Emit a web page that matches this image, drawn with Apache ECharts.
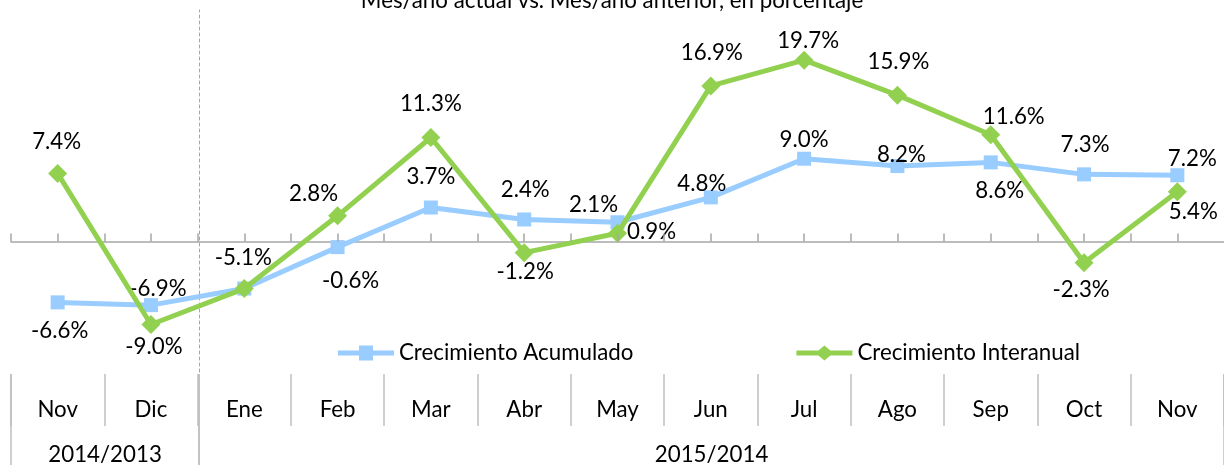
<!DOCTYPE html>
<html><head><meta charset="utf-8">
<script src="https://cdn.jsdelivr.net/npm/echarts@6/dist/echarts.min.js"></script>
<style>html,body{margin:0;padding:0;background:#fff}#c{width:1224px;height:466px}</style>
</head><body><div id="c"></div>
<script>
// ---- data ----
const months = ['Nov','Dic','Ene','Feb','Mar','Abr','May','Jun','Jul','Ago','Sep','Oct','Nov'];
const years = ['2014/2013','2015/2014'];
const yearSpans = [2, 11];
const acumulado = [-6.6,-6.9,-5.1,-0.6,3.7,2.4,2.1,4.8,9.0,8.2,8.6,7.3,7.2];
const interanual = [7.4,-9.0,-5.1,2.8,11.3,-1.2,0.9,16.9,19.7,15.9,11.6,-2.3,5.4];
const seriesNames = ['Crecimiento Acumulado','Crecimiento Interanual'];
const titleText = 'Mes/año actual vs. Mes/año anterior, en porcentaje';

// ---- label placement (style) ----
const offA = [[2,28],[7,-16],[-1,-31],[13,34],[0,-31],[1,-30],[-24,-17],[-9,-14],[0,-19],[4,-11],[9,28],[1,-30],[15,-16]];
const offI = [[-1,-32],[3,22],null,[-24,-22],[0,-34],[1,19],[34,-1],[1,-33],[4,-19],[1,-33],[23,-18],[-3,27],[16,20]];

// ---- font fit ----
const FONT = 'Lato';
const cv = document.createElement('canvas').getContext('2d');
cv.font = '100px ' + FONT;
const fs = Math.round(234 / cv.measureText('Crecimiento Acumulado').width * 100 * 10) / 10;

// ---- layout ----
const cw = 94.08, gl = 11, gw = 13 * cw;
const yMin = -14, yMax = 25.2, pxU = 9.21;
const gTop = 9.5, gH = (yMax - yMin) * pxU;
const zeroY = gTop + yMax * pxU;
const tickLen = 8 / pxU;
const grey = '#A6A6A6', tgrey = '#BFBFBF';
const BLUE = '#99CCFF', GREEN = '#92D050';

function mk(vals, offs) {
  return vals.map((v, i) => {
    const o = offs[i];
    return o ? { value: v, label: { offset: o } } : { value: v, label: { show: false } };
  });
}
const hiddenY = (gi) => ({ gridIndex: gi, type: 'value', show: false, splitLine: { show: false } });
const hiddenX = (gi) => ({ gridIndex: gi, type: 'value', show: false, splitLine: { show: false } });

const grids = [
  { left: gl, width: gw, top: gTop, height: gH },              // 0 data
  { left: gl, width: gw, top: zeroY - 8, height: 8 },          // 1 zero line
  { left: gl, width: gw, top: 374, height: 52 },               // 2 month row
  { left: gl + 2 * cw, width: 10, top: 10, height: 362 },      // 3 dashed divider
  { left: gl, width: gw, top: gTop, height: gH },              // 4 tick overlay (half-category scale)
];
const xAxes = [
  { gridIndex: 0, type: 'category', data: months, show: false },
  { gridIndex: 1, type: 'category', data: months, position: 'bottom',
    axisLine: { show: true, onZero: false, lineStyle: { color: grey, width: 1.5 } },
    axisTick: { show: false }, axisLabel: { show: false }, splitLine: { show: false } },
  { gridIndex: 2, type: 'category', data: months, position: 'bottom',
    axisLine: { show: false }, axisTick: { show: false },
    axisLabel: { show: true, inside: true, interval: 0, margin: 16, verticalAlign: 'middle', color: '#000', fontSize: fs, fontFamily: FONT },
    splitLine: { show: true, interval: 0, lineStyle: { color: tgrey, width: 1.5 } } },
  hiddenX(3),
  { gridIndex: 4, type: 'value', min: 0, max: 2 * months.length, show: false, splitLine: { show: false } },
];
const yAxes = [
  { gridIndex: 0, type: 'value', min: yMin, max: yMax, show: false, splitLine: { show: false } },
  hiddenY(1),
  hiddenY(2),
  { gridIndex: 3, type: 'value', show: true, axisLine: { show: true, lineStyle: { color: grey, width: 1, type: [3, 3] } },
    axisTick: { show: false }, axisLabel: { show: false }, splitLine: { show: false } },
  { gridIndex: 4, type: 'value', min: yMin, max: yMax, show: false, splitLine: { show: false } },
];
let start = 0;
years.forEach((yr, k) => {
  const gi = grids.length;
  grids.push({ left: gl + start * cw, width: yearSpans[k] * cw, top: 374, height: 92 });
  xAxes.push({ gridIndex: gi, type: 'category', data: [yr], position: 'bottom',
    axisLine: { show: false }, axisTick: { show: false },
    axisLabel: { show: true, inside: true, margin: 10, verticalAlign: 'middle', color: '#000', fontSize: fs, fontFamily: FONT },
    splitLine: { show: true, interval: 0, lineStyle: { color: tgrey, width: 1.5 } } });
  yAxes.push(hiddenY(gi));
  start += yearSpans[k];
});

// tick marks on the zero line at every half category, in half-category axis units
const tickMarks = [];
for (let k = 0; k < 2 * months.length; k++) {
  tickMarks.push([{ coord: [k, 0] }, { coord: [k, tickLen] }]);
}

const lbl = { show: true, position: 'inside', align: 'center', verticalAlign: 'middle', color: '#000', fontSize: fs, fontFamily: FONT,
  formatter: (p) => p.value.toFixed(1) + '%' };

const iconSquare = 'path://M0,5H21V0H35V5H56V10H35V15H21V10H0Z';
const iconDiamond = 'path://M0,5H22L28,0L34,5H56V10H34L28,15L22,10H0Z';

const chart = echarts.init(document.getElementById('c'));
chart.setOption({
  animation: false,
  backgroundColor: '#fff',
  title: { text: titleText, left: 'center', top: -15, textStyle: { fontSize: fs, fontWeight: 'normal', color: '#000', fontFamily: FONT } },
  legend: { left: 338, top: 342, padding: 0, itemWidth: 56, itemHeight: 15, itemGap: 163,
    textStyle: { fontSize: fs, color: '#000', fontFamily: FONT },
    data: [{ name: seriesNames[0], icon: iconSquare }, { name: seriesNames[1], icon: iconDiamond }] },
  grid: grids,
  xAxis: xAxes,
  yAxis: yAxes,
  series: [
    { name: 'ticks', type: 'line', xAxisIndex: 4, yAxisIndex: 4, data: [], silent: true, symbol: 'none',
      markLine: { silent: true, symbol: 'none', label: { show: false }, animation: false,
        lineStyle: { color: grey, width: 1.5, type: 'solid' }, emphasis: { disabled: true }, data: tickMarks }, z: 1 },
    { name: seriesNames[0], type: 'line', xAxisIndex: 0, yAxisIndex: 0, data: mk(acumulado, offA),
      symbol: 'rect', symbolSize: 14, color: BLUE, lineStyle: { width: 5, color: BLUE }, itemStyle: { color: BLUE },
      label: lbl, z: 3 },
    { name: seriesNames[1], type: 'line', xAxisIndex: 0, yAxisIndex: 0, data: mk(interanual, offI),
      symbol: 'diamond', symbolSize: 19, color: GREEN, lineStyle: { width: 5, color: GREEN }, itemStyle: { color: GREEN },
      label: lbl, z: 4 },
  ],
});
</script></body></html>
